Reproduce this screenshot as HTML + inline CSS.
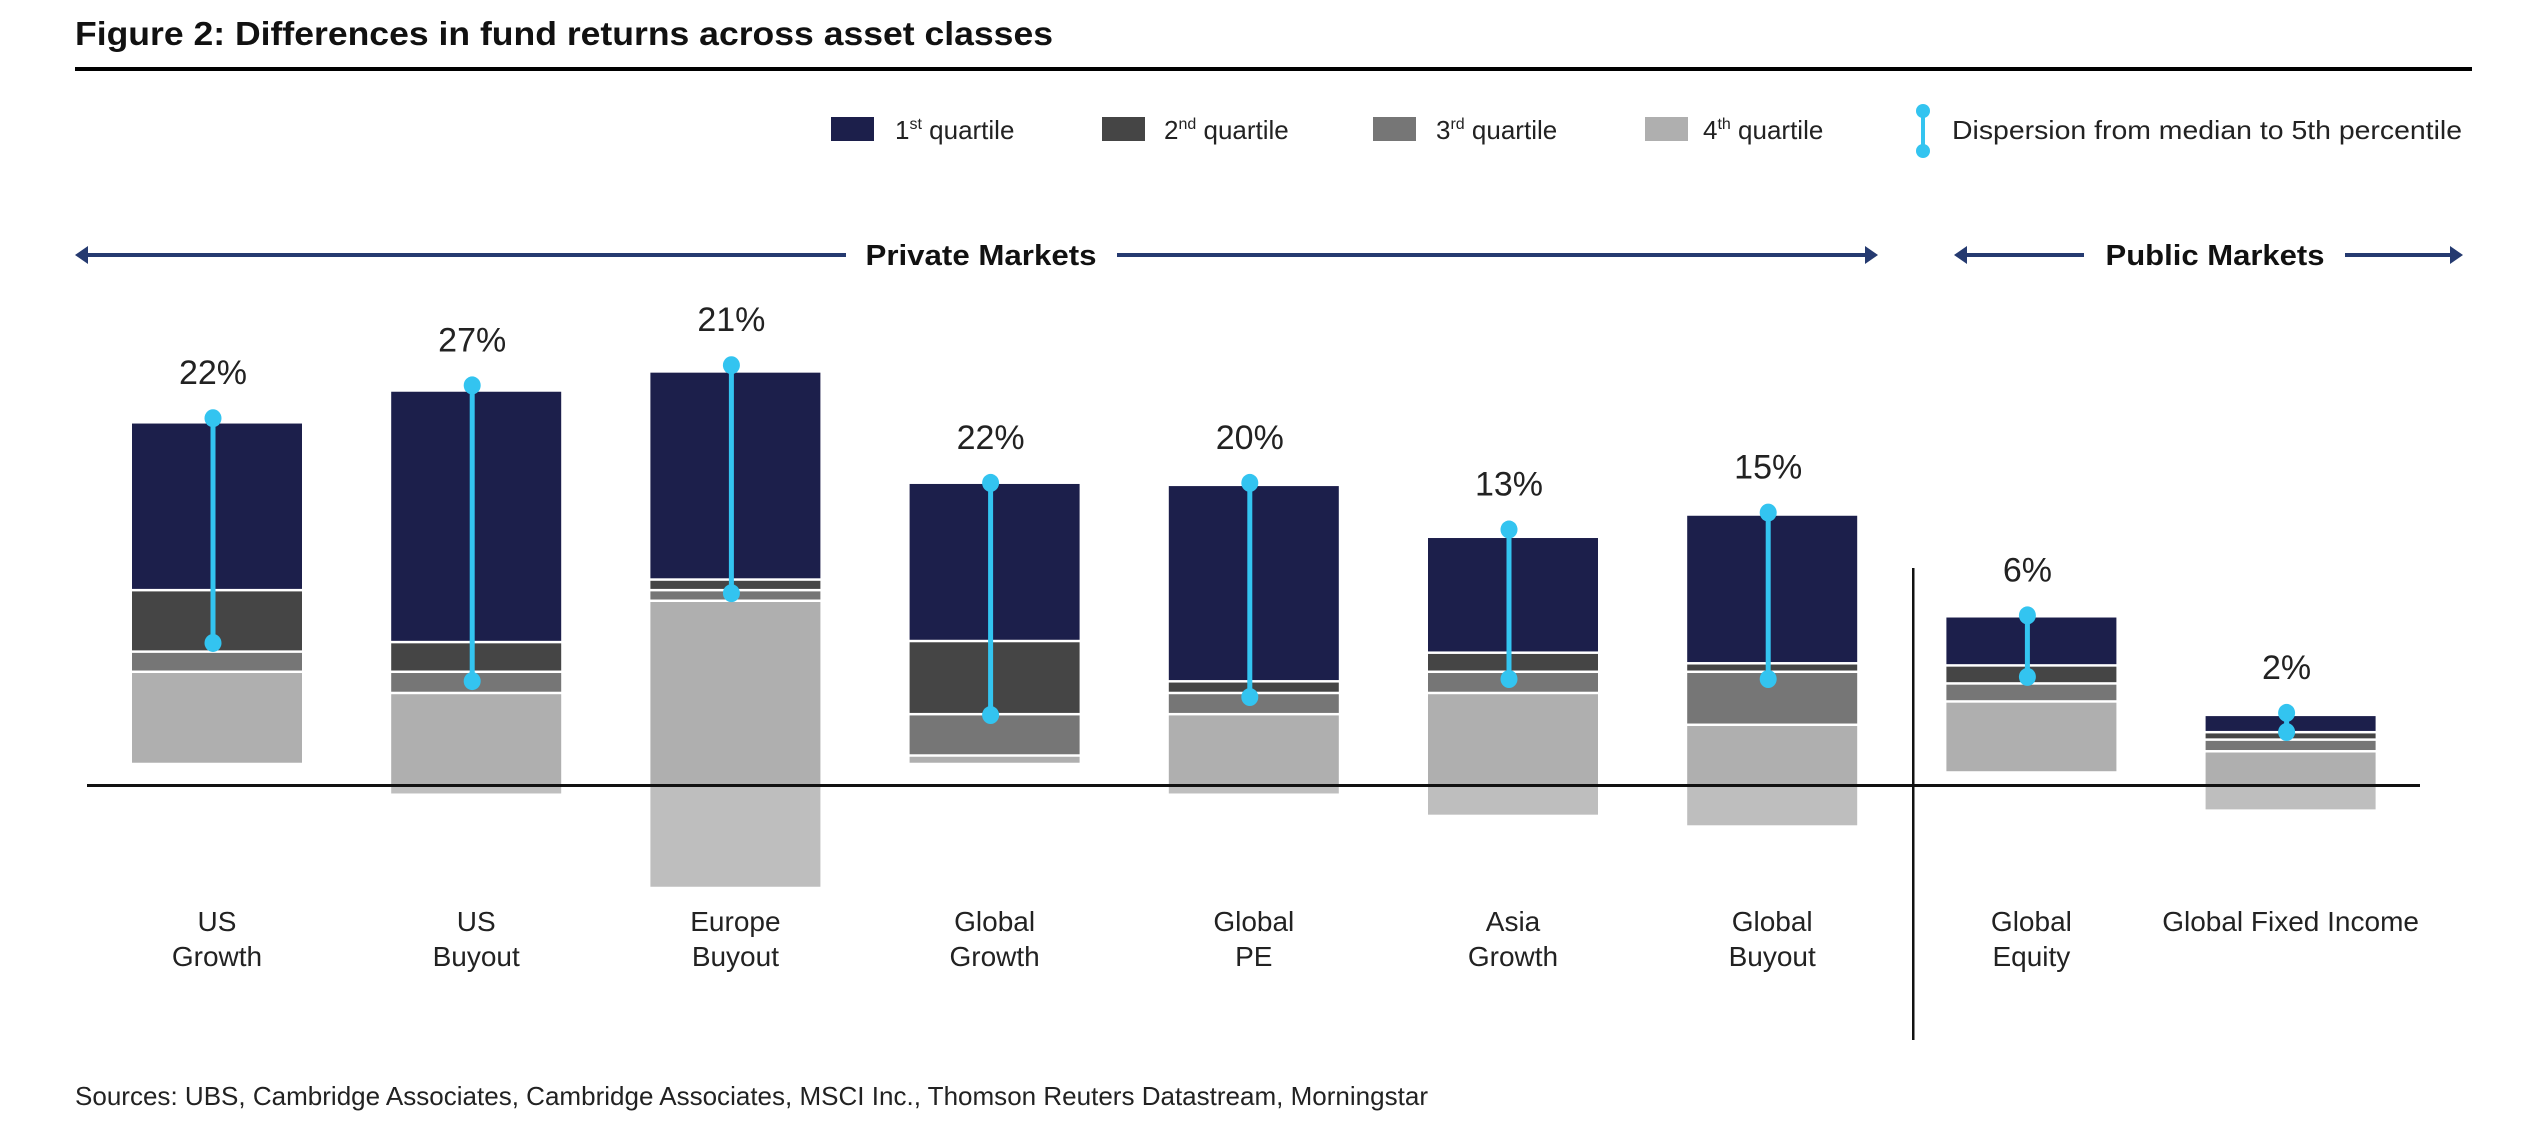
<!DOCTYPE html>
<html><head><meta charset="utf-8"><style>
html,body{margin:0;padding:0;background:#fff;}
svg{display:block;font-family:"Liberation Sans",sans-serif;}
</style></head><body>
<svg id="chart" width="2539" height="1126" viewBox="0 0 2539 1126" xmlns="http://www.w3.org/2000/svg">
<text x="75" y="45" font-size="33" font-weight="bold" fill="#111" textLength="978" lengthAdjust="spacingAndGlyphs">Figure 2: Differences in fund returns across asset classes</text>
<rect x="75" y="67" width="2397" height="4" fill="#000"/>
<g font-size="26" fill="#222">
 <g><rect x="831" y="117" width="43" height="24" fill="#1c1f4b"/><text x="895" y="139">1<tspan font-size="16" dy="-10">st</tspan><tspan dy="10"> quartile</tspan></text></g>
 <g><rect x="1102" y="117" width="43" height="24" fill="#454545"/><text x="1164" y="139">2<tspan font-size="16" dy="-10">nd</tspan><tspan dy="10"> quartile</tspan></text></g>
 <g><rect x="1373" y="117" width="43" height="24" fill="#767676"/><text x="1436" y="139">3<tspan font-size="16" dy="-10">rd</tspan><tspan dy="10"> quartile</tspan></text></g>
 <g><rect x="1645" y="117" width="43" height="24" fill="#afafaf"/><text x="1703" y="139">4<tspan font-size="16" dy="-10">th</tspan><tspan dy="10"> quartile</tspan></text></g>
 <g><line x1="1923" y1="111" x2="1923" y2="151" stroke="#33c4f0" stroke-width="4"/><circle cx="1923" cy="111" r="7" fill="#33c4f0"/><circle cx="1923" cy="151" r="7" fill="#33c4f0"/><text x="1952" y="139" textLength="510" lengthAdjust="spacingAndGlyphs">Dispersion from median to 5th percentile</text></g>
</g>
<g fill="#253a70" stroke="#253a70">
 <line x1="84" y1="255" x2="846" y2="255" stroke-width="4"/><polygon points="75,255 88,246 88,264" stroke="none"/>
 <line x1="1117" y1="255" x2="1868" y2="255" stroke-width="4"/><polygon points="1878,255 1865,246 1865,264" stroke="none"/>
 <text x="981" y="265" text-anchor="middle" font-size="29" font-weight="bold" fill="#111" stroke="none" textLength="231" lengthAdjust="spacingAndGlyphs">Private Markets</text>
</g>
<g fill="#253a70" stroke="#253a70">
 <line x1="1963" y1="255" x2="2084" y2="255" stroke-width="4"/><polygon points="1954,255 1967,246 1967,264" stroke="none"/>
 <line x1="2345" y1="255" x2="2454" y2="255" stroke-width="4"/><polygon points="2463,255 2450,246 2450,264" stroke="none"/>
 <text x="2215" y="265" text-anchor="middle" font-size="29" font-weight="bold" fill="#111" stroke="none" textLength="219" lengthAdjust="spacingAndGlyphs">Public Markets</text>
</g>
<g id="bars"></g>
<rect x="87" y="784" width="2333" height="3" fill="#111"/>
<rect x="1912" y="568" width="2.5" height="472" fill="#111"/>
<g id="dots"></g>
<g id="labels"></g>
<text x="75" y="1105" font-size="26" fill="#222" textLength="1353" lengthAdjust="spacingAndGlyphs">Sources: UBS, Cambridge Associates, Cambridge Associates, MSCI Inc., Thomson Reuters Datastream, Morningstar</text>
</svg>
<script>
const categories = [["US","Growth"],["US","Buyout"],["Europe","Buyout"],["Global","Growth"],["Global","PE"],["Asia","Growth"],["Global","Buyout"],["Global","Equity"],["Global Fixed Income"]];
const q1Top = [34.1,37.1,38.9,28.4,28.2,23.3,25.4,15.8,6.5];
const q1Bottom = [18.5,13.6,19.5,13.7,9.9,12.6,11.6,11.4,5.1];
const q2Bottom = [12.7,10.8,18.5,6.8,8.8,10.8,10.8,9.7,4.4];
const q3Bottom = [10.8,8.8,17.5,2.9,6.8,8.8,5.8,8.0,3.3];
const q4Bottom = [2.1,-0.8,-9.6,2.1,-0.8,-2.8,-3.8,1.3,-2.3];
const dispTop = [34.6,37.7,39.6,28.5,28.5,24.1,25.7,16.0,6.8];
const dispBottom = [13.4,9.8,18.1,6.6,8.3,10.0,10.0,10.2,5.0];
const dispLabels = ["22%","27%","21%","22%","20%","13%","15%","6%","2%"];

const NS = "http://www.w3.org/2000/svg";
const zeroY = 785, pxPer = 10.6;
function y(v){ return zeroY - v*pxPer; }
function xCenter(i){ return 217 + i*259.2; }
const barW = 170;
function mk(tag, attrs, parent){ const e=document.createElementNS(NS,tag); for(const k in attrs) e.setAttribute(k,attrs[k]); parent.appendChild(e); return e; }
const gb=document.getElementById('bars'), gd=document.getElementById('dots'), gl=document.getElementById('labels');
const segColors=["#1c1f4b","#454545","#767676","#afafaf"];
const segNames=["q1","q2","q3","q4"];
categories.forEach((c,i)=>{
  const cx=xCenter(i), x0=cx-barW/2;
  const tops=[q1Top[i],q1Bottom[i],q2Bottom[i],q3Bottom[i]];
  const bots=[q1Bottom[i],q2Bottom[i],q3Bottom[i],q4Bottom[i]];
  for(let s=0;s<4;s++){
    let t=y(tops[s]), b=y(bots[s]);
    if(s>0) t+=2.5;
    if(s===3 && bots[s]<0){
      const r1=mk('rect',{x:x0,y:t,width:barW,height:Math.max(0,zeroY-t),fill:"#afafaf"},gb);
      
      
      const r2=mk('rect',{x:x0,y:zeroY,width:barW,height:b-zeroY,fill:"#bebebe"},gb);
      
      
    } else {
      const r=mk('rect',{x:x0,y:t,width:barW,height:Math.max(0,b-t),fill:segColors[s]},gb);
      
      
    }
  }
  const dx=cx-4;
  const ln=mk('line',{x1:dx,y1:y(dispTop[i]),x2:dx,y2:y(dispBottom[i]),stroke:"#33c4f0","stroke-width":5},gd);
  
  
  const d1=mk('ellipse',{cx:dx,cy:y(dispTop[i]),rx:8.5,ry:9,fill:"#33c4f0"},gd);
  
  
  const d2=mk('ellipse',{cx:dx,cy:y(dispBottom[i]),rx:8.5,ry:9,fill:"#33c4f0"},gd);
  
  
  const lab=mk('text',{x:dx,y:y(dispTop[i])-34,"text-anchor":"middle","font-size":34,fill:"#222"},gl);
  lab.textContent=dispLabels[i];
  
  
  const cat=mk('text',{x:cx,y:931,"text-anchor":"middle","font-size":28,fill:"#222"},gl);
  
  
  c.forEach((line,k)=>{ const ts=mk('tspan',{x:cx,dy:k?35:0},cat); ts.textContent=line; });
});
</script>
</body></html>
